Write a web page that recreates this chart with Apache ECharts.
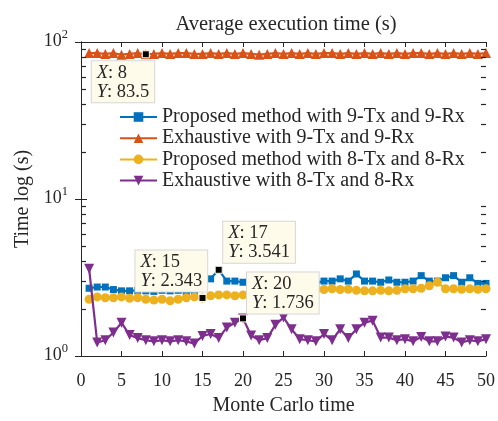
<!DOCTYPE html>
<html>
<head>
<meta charset="utf-8">
<script src="https://cdn.jsdelivr.net/npm/echarts@6/dist/echarts.min.js"></script>
<style>html,body{margin:0;padding:0;background:#fff;}#c{width:498px;height:421px;}</style>
</head>
<body>
<div id="c"></div>
<script>
// ---------------- data ----------------
const runs = [1,2,3,4,5,6,7,8,9,10,11,12,13,14,15,16,17,18,19,20,21,22,23,24,25,26,27,28,29,30,31,32,33,34,35,36,37,38,39,40,41,42,43,44,45,46,47,48,49,50];
const proposed9 = [2.7,2.75,2.75,2.65,2.6,2.6,2.62,2.6,2.58,2.62,2.6,2.62,2.55,2.6,2.85,3.1,3.541,3.0,3.0,2.95,2.95,2.92,2.95,2.9,2.95,2.92,2.95,2.9,2.92,3.0,3.0,3.1,3.0,3.33,3.0,3.0,2.95,3.05,2.95,2.95,3.0,3.25,3.0,3.0,3.15,3.25,2.95,3.15,2.9,2.9];
const exhaustive9 = [85,85,84,85,83,84,85,83.5,84,85,84,85,85,84,84,85,84,85,84,85,84,83,84,85,84,85,84,85,84,85,85,84,85,84,85,84,85,84,85,84,85,85,84,85,84,85,84,85,84,85];
const proposed8 = [2.3,2.38,2.35,2.35,2.38,2.33,2.35,2.3,2.27,2.3,2.25,2.3,2.35,2.38,2.343,2.42,2.45,2.45,2.42,2.45,2.48,2.5,2.52,2.55,2.55,2.58,2.6,2.62,2.65,2.65,2.68,2.65,2.66,2.62,2.6,2.6,2.62,2.6,2.62,2.68,2.68,2.7,2.8,2.95,2.68,2.68,2.66,2.68,2.66,2.68];
const exhaustive8 = [3.6,1.22,1.26,1.41,1.63,1.36,1.3,1.26,1.24,1.26,1.24,1.26,1.24,1.2,1.34,1.38,1.3,1.52,1.63,1.736,1.35,1.26,1.3,1.58,1.76,1.48,1.28,1.26,1.24,1.38,1.26,1.48,1.3,1.48,1.63,1.68,1.31,1.31,1.26,1.28,1.24,1.32,1.24,1.24,1.33,1.31,1.22,1.26,1.24,1.28];
const seriesNames = ['Proposed method with 9-Tx and 9-Rx','Exhaustive with 9-Tx and 9-Rx','Proposed method with 8-Tx and 8-Rx','Exhaustive with 8-Tx and 8-Rx'];
const xTicks = [0,5,10,15,20,25,30,35,40,45,50];
const minorTickVals = [2,3,4,5,6,7,8,9,20,30,40,50,60,70,80,90];
// data tips: [series index, run]
const tips = [[1,8],[2,15],[0,17],[3,20]];

// ---------------- chart ----------------
const FONT = 'Liberation Serif';
const TXT = '#262626';
const colors = ['#0072BD','#D95319','#EDB120','#7E2F8E'];
const symbols = ['rect','triangle','circle','triangle'];
const symSizes = [7,10,9,10];
const rotates = [0,0,0,180];
const allData = [proposed9, exhaustive9, proposed8, exhaustive8];
const tipPos = {1:[-50,11], 2:[-63,-43.5], 0:[8.5,-44], 3:[8,-42]};

const chart = echarts.init(document.getElementById('c'), null, {renderer:'canvas'});

const series = allData.map((arr, i) => {
  const s = {
    name: seriesNames[i],
    type: 'line',
    xAxisIndex: 0, yAxisIndex: 0,
    data: runs.map((r, k) => [r, arr[k]]),
    symbol: symbols[i],
    symbolSize: symSizes[i],
    symbolRotate: rotates[i],
    showSymbol: true,
    showAllSymbol: true,
    lineStyle: {color: colors[i], width: 2.2},
    itemStyle: {color: colors[i]},
    z: 2 + i * 0.01,
  };
  const tip = tips.find(t => t[0] === i);
  if (tip) {
    const r = tip[1];
    const v = arr[runs.indexOf(r)];
    s.markPoint = {
      z: 10,
      symbol: 'rect',
      symbolSize: 7,
      itemStyle: {color: '#000', borderColor: '#fffbe6', borderWidth: 1},
      data: [{coord: [r, v], value: v}],
      label: {
        show: true,
        position: tipPos[i],
        align: 'left',
        verticalAlign: 'top',
        formatter: '{i|X}: ' + r + '\n{i|Y}: ' + v,
        fontFamily: FONT, fontSize: 18.5, color: TXT,
        lineHeight: 19,
        backgroundColor: '#fffbeb',
        borderColor: '#d6d6d6', borderWidth: 1,
        padding: [2, 5, 1, 5],
        rich: {i: {fontFamily: FONT, fontSize: 18.5, fontStyle: 'italic', color: TXT, lineHeight: 19}}
      }
    };
  }
  return s;
});

const yLabel = {
  fontFamily: FONT, color: TXT, margin: 13,
  padding: [0, 0, 6, 0],
  formatter: function (v) {
    const e = Math.round(Math.log10(v));
    return '{a|10}{s|' + e + '}';
  },
  rich: {
    a: {fontFamily: FONT, fontSize: 18, color: TXT, lineHeight: 22, verticalAlign: 'bottom'},
    s: {fontFamily: FONT, fontSize: 12.5, color: TXT, lineHeight: 22, verticalAlign: 'top'}
  }
};

const axisLineStyle = {lineStyle: {color: TXT, width: 1}};

chart.setOption({
  animation: false,
  backgroundColor: '#fff',
  title: {
    text: 'Average execution time (s)',
    left: 281, top: 9, textAlign: 'center',
    textStyle: {fontFamily: FONT, fontSize: 20.5, fontWeight: 'normal', color: TXT}
  },
  legend: {
    orient: 'vertical',
    left: 114, top: 102,
    data: seriesNames,
    itemWidth: 37, itemHeight: 12, itemGap: 1.2,
    textStyle: {fontFamily: FONT, fontSize: 20, color: TXT, lineHeight: 20},
    selectedMode: false
  },
  grid: {left: 81, right: 11, top: 42, bottom: 60, containLabel: false},
  xAxis: [{
    type: 'value', min: 0, max: 50, interval: 5,
    name: 'Monte Carlo time', nameLocation: 'middle', nameGap: 40,
    nameTextStyle: {fontFamily: FONT, fontSize: 20, color: TXT},
    axisLine: axisLineStyle,
    axisTick: {inside: true, length: 5, lineStyle: {color: TXT}},
    axisLabel: {fontFamily: FONT, fontSize: 18, color: TXT, margin: 16,
      formatter: v => xTicks.includes(v) ? String(v) : ''},
    splitLine: {show: false}
  }, {
    type: 'value', min: 0, max: 50, interval: 5, position: 'top',
    axisLine: axisLineStyle,
    axisTick: {inside: true, length: 5, lineStyle: {color: TXT}},
    axisLabel: {show: false}, splitLine: {show: false}
  }],
  yAxis: [{
    type: 'log', logBase: 10, min: 1, max: 100,
    name: 'Time log (s)', nameLocation: 'middle', nameGap: 48,
    nameTextStyle: {fontFamily: FONT, fontSize: 20, color: TXT},
    axisLine: axisLineStyle,
    axisTick: {inside: true, length: 6, lineStyle: {color: TXT}},
    axisLabel: yLabel,
    splitLine: {show: false}
  }, {
    type: 'log', logBase: 10, min: 1, max: 100, position: 'right',
    axisLine: axisLineStyle,
    axisTick: {inside: true, length: 6, lineStyle: {color: TXT}},
    axisLabel: {show: false}, splitLine: {show: false}
  }],
  series: series
});

// minor ticks of the log axis (inward, both sides) placed through the axis scale
const xl = chart.convertToPixel({xAxisIndex: 0}, 0);
const xr = chart.convertToPixel({xAxisIndex: 0}, 50);
const minorEls = [];
minorTickVals.forEach((v, k) => {
  const y = Math.round(chart.convertToPixel({yAxisIndex: 0}, v)) + 0.5;
  minorEls.push({type: 'line', id: 'ml' + k, silent: true, z: 50, shape: {x1: xl, y1: y, x2: xl + 5, y2: y}, style: {stroke: TXT, lineWidth: 1.2}});
  minorEls.push({type: 'line', id: 'mr' + k, silent: true, z: 50, shape: {x1: xr, y1: y, x2: xr - 5, y2: y}, style: {stroke: TXT, lineWidth: 1.2}});
});
chart.setOption({graphic: {elements: minorEls}});
</script>
</body>
</html>
